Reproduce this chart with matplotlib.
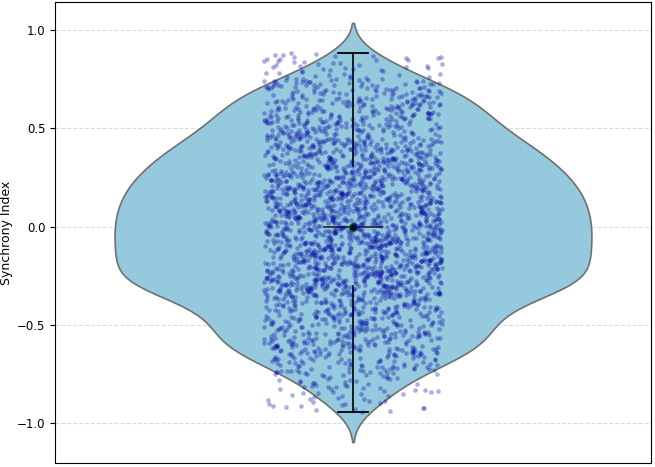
import matplotlib
matplotlib.use("Agg")
import matplotlib.pyplot as plt
import numpy as np
import seaborn as sns

# Synchrony index values, read off the picture as a histogram
# (bin edges and how many points fall in each bin)
bin_edges = [-0.94, -0.85, -0.75, -0.65, -0.55, -0.45, -0.35, -0.25, -0.15, -0.05,
             0.05, 0.15, 0.25, 0.35, 0.45, 0.55, 0.65, 0.75, 0.88]
bin_counts = [25, 41, 82, 119, 122, 137, 205, 207, 208, 209,
              206, 198, 182, 160, 130, 115, 92, 50]

y_ticks = [-1.0, -0.5, 0.0, 0.5, 1.0]


# spread each bin's points evenly over the bin
def values_from_bins(edges, counts):
    vals = []
    for lo, hi, n in zip(edges[:-1], edges[1:], counts):
        vals.extend(np.linspace(lo, hi, n, endpoint=False) + (hi - lo) / (2 * n))
    vals[0] = edges[0]
    vals[-1] = edges[-1]
    return np.array(vals)


sync = values_from_bins(bin_edges, bin_counts)

fig, ax = plt.subplots(figsize=(6.55, 4.67), dpi=100)
fig.subplots_adjust(left=55 / 655, right=651 / 655, top=1 - 2 / 467, bottom=1 - 463 / 467)

sns.violinplot(y=sync, color="skyblue", inner=None, linecolor="#707070",
               linewidth=1.2, bw_adjust=0.9, ax=ax)

np.random.seed(3)  # stripplot jitter
sns.stripplot(y=sync, color="#0000a0", alpha=0.32, size=3.3, jitter=0.15, ax=ax)

ax.boxplot(sync, positions=[0], widths=0.1, showfliers=False, showmeans=True,
           manage_ticks=False,
           boxprops=dict(linewidth=0),
           whiskerprops=dict(color="black", linewidth=1.2),
           capprops=dict(color="black", linewidth=1.3),
           medianprops=dict(color="#222222", linewidth=1.2),
           meanprops=dict(marker="o", markerfacecolor="black",
                          markeredgecolor="green", markersize=5.5))

ax.set_xlim(-0.5, 0.5)
ax.set_xticks([])
ax.set_yticks(y_ticks)
ax.tick_params(axis="y", labelsize=8.5)
ax.set_ylabel("Synchrony Index", fontsize=9, labelpad=3)
ax.yaxis.grid(True, linestyle="--", color="#cccccc", alpha=0.7)
ax.set_axisbelow(True)

fig.savefig("out.png", dpi=100)
